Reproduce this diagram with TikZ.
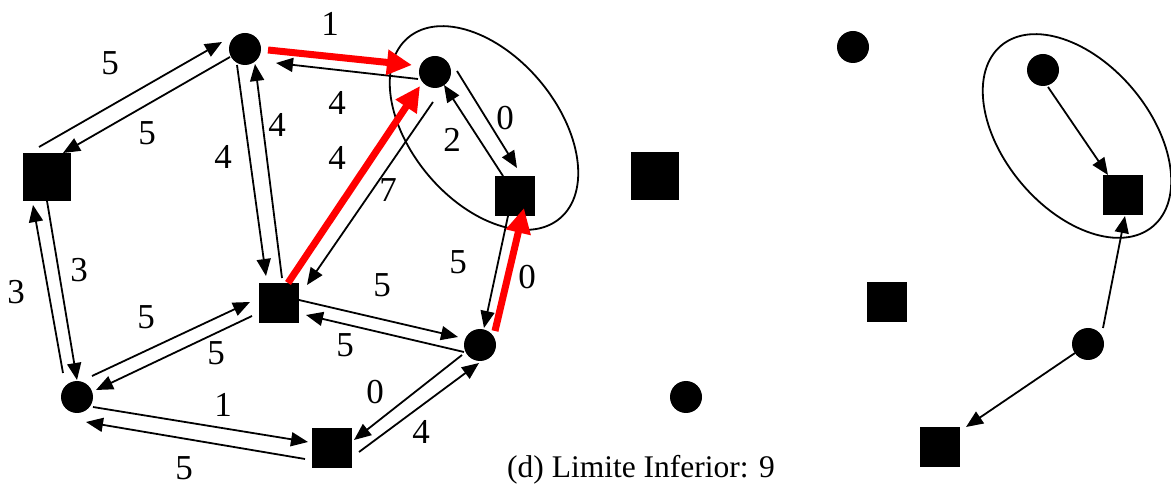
\documentclass[tikz,border=0pt]{standalone}
\usepackage{fontspec}
\setmainfont{Liberation Serif}
\usetikzlibrary{arrows.meta,shapes.geometric}
\begin{document}
\begin{tikzpicture}[x=1pt,y=-1pt,
  cnode/.style={circle,fill=black,minimum size=32pt,inner sep=0pt},
  snode/.style={rectangle,fill=black,minimum size=40pt,inner sep=0pt},
  bnode/.style={rectangle,fill=black,minimum size=48pt,inner sep=0pt},
  blk/.style={draw=black,line width=1.8pt,-{Triangle[length=17pt,width=14pt]}},
  redarr/.style={draw=red,line width=7pt,-{Triangle[length=25pt,width=24pt]}},
  lab/.style={inner sep=0pt,font=\fontsize{35}{38}\selectfont},
  grp/.style={draw=black,ellipse,line width=1.8pt,minimum width=236pt,minimum height=146pt,inner sep=0pt,rotate=-50}
]
\useasboundingbox (0,0) rectangle (1171,486);
% left graph nodes
\node[cnode] (A) at (245,49) {};
\node[cnode] (B) at (435,72) {};
\node[bnode] (C) at (47,177) {};
\node[snode] (D) at (515,196) {};
\node[snode] (E) at (279,303) {};
\node[cnode] (F) at (480,345) {};
\node[cnode] (G) at (77,397) {};
\node[snode] (H) at (332,448) {};
\node[grp] (L1) at (484,128) {};
% right graph nodes
\node[cnode] (A2) at (853,47) {};
\node[cnode] (B2) at (1043,70) {};
\node[bnode] (C2) at (655,176) {};
\node[snode] (D2) at (1123,195) {};
\node[snode] (E2) at (887,302) {};
\node[cnode] (F2) at (1088,344) {};
\node[cnode] (G2) at (686,397) {};
\node[snode] (H2) at (940,447) {};
\node[grp] (L2) at (1077,136) {};
% left graph edges
\draw[blk] ([shift={(-17,7)}]B.center) -- ([shift={(31,14)}]A.center);
\draw[blk] ([shift={(-8,-30)}]C.center) -- ([shift={(-23,-7)}]A.center);
\draw[blk] ([shift={(-15,8)}]A.center) -- ([shift={(16,-24)}]C.center);
\draw[blk] ([shift={(-8,16)}]A.center) -- ([shift={(-13,-27)}]E.center);
\draw[blk] ([shift={(3,-25)}]E.center) -- ([shift={(10,15)}]A.center);
\draw[blk] ([shift={(-2,30)}]B.center) -- ([shift={(28,-18)}]E.center);
\draw[blk] ([shift={(22,-1)}]B.center) -- ([shift={(2,-28)}]D.center);
\draw[blk] ([shift={(-12,-20)}]D.center) -- ([shift={(9,13)}]B.center);
\draw[blk] ([shift={(-7,20)}]D.center) -- ([shift={(4,-17)}]F.center);
\draw[blk] ([shift={(20,-3)}]E.center) -- ([shift={(-22,-8)}]F.center);
\draw[blk] ([shift={(-16,7)}]F.center) -- ([shift={(27,12)}]E.center);
\draw[blk] ([shift={(15,-21)}]G.center) -- ([shift={(-29,-1)}]E.center);
\draw[blk] ([shift={(-27,13)}]E.center) -- ([shift={(19,-7)}]G.center);
\draw[blk] ([shift={(0,24)}]C.center) -- ([shift={(0,-17)}]G.center);
\draw[blk] ([shift={(-14,-24)}]G.center) -- ([shift={(-14,28)}]C.center);
\draw[blk] ([shift={(16,10)}]G.center) -- ([shift={(-24,-6)}]H.center);
\draw[blk] ([shift={(-27,11)}]H.center) -- ([shift={(9,25)}]G.center);
\draw[blk] ([shift={(-18,10)}]F.center) -- ([shift={(22,-8)}]H.center);
\draw[blk] ([shift={(27,4)}]H.center) -- ([shift={(-1,18)}]F.center);
\draw[redarr] ([shift={(23,1)}]A.center) -- ([shift={(-23,-7)}]B.center);
\draw[redarr] ([shift={(9,-20)}]E.center) -- ([shift={(-15,14)}]B.center);
\draw[redarr] ([shift={(15,-14)}]F.center) -- ([shift={(9,12)}]D.center);
% right graph edges
\draw[blk] ([shift={(5,17)}]B2.center) -- ([shift={(-15,-20)}]D2.center);
\draw[blk] ([shift={(15,-16)}]F2.center) -- ([shift={(2,21)}]D2.center);
\draw[blk] ([shift={(-13,9)}]F2.center) -- ([shift={(26,-20)}]H2.center);
% labels
\node[lab] (l1) at (330,24) {1};
\node[lab] (l2) at (337,103) {4};
\node[lab] (l3) at (337,158) {4};
\node[lab] (l4) at (388,190) {7};
\node[lab] (l5) at (110,63) {5};
\node[lab] (l6) at (147,133) {5};
\node[lab] (l7) at (223,157) {4};
\node[lab] (l8) at (277,125) {4};
\node[lab] (l9) at (452,140) {2};
\node[lab] (l10) at (505,118) {0};
\node[lab] (l11) at (458,262) {5};
\node[lab] (l12) at (527,277) {0};
\node[lab] (l13) at (382,285) {5};
\node[lab] (l14) at (345,345) {5};
\node[lab] (l15) at (146,317) {5};
\node[lab] (l16) at (216,353) {5};
\node[lab] (l17) at (16,292) {3};
\node[lab] (l18) at (79,270) {3};
\node[lab] (l19) at (223,405) {1};
\node[lab] (l20) at (184,468) {5};
\node[lab] (l21) at (375,392) {0};
\node[lab] (l22) at (421,432) {4};
\node[inner sep=0pt,font=\fontsize{31.5}{34}\selectfont,anchor=base] (cap) at (641,478) {(d) Limite Inferior: 9};
\end{tikzpicture}
\end{document}
